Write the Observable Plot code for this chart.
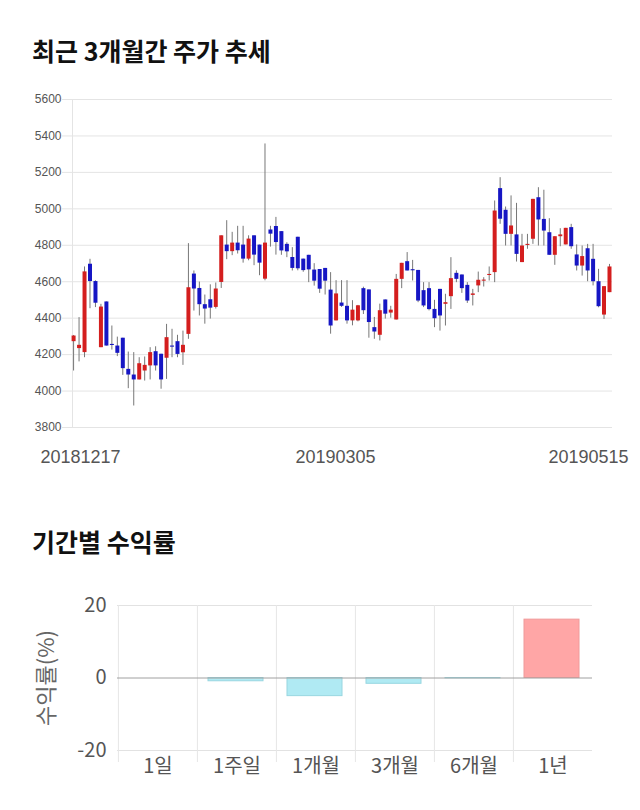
<!DOCTYPE html>
<html><head><meta charset="utf-8">
<script src="https://cdn.jsdelivr.net/npm/d3@7"></script>
<script src="https://cdn.jsdelivr.net/npm/@observablehq/plot@0.6"></script>
<style>
body{margin:0;background:#fff;}
#root{position:relative;width:640px;height:810px;overflow:hidden;font-family:"Noto Sans CJK KR","Noto Sans",sans-serif;}
.title{position:absolute;left:32px;font-weight:700;font-size:25px;color:#111;line-height:1;white-space:nowrap;}
.chart{position:absolute;left:0;}
</style></head><body>
<div id="root">
<div class="title" style="top:38px">최근 3개월간 주가 추세</div>
<div id="c1" class="chart" style="top:80px"></div>
<div class="title" style="top:529px">기간별 수익률</div>
<div id="c2" class="chart" style="top:590px"></div>
</div>
<script>
// ---- candlestick data (2018-12-17 .. 2019-05-15, 99 trading days) ----
const opens = [4271,4233,4211,4696,4601,4238,4489,4256,4247,4290,4119,4088,4061,4110,4138,4216,4202,4180,4247,4271,
4210,4311,4642,4563,4474,4501,4459,4596,4801,4765,4812,4801,4724,4852,4801,4614,4884,4903,4875,4805,
4733,4844,4724,4745,4664,4667,4673,4554,4385,4483,4465,4385,4385,4562,4555,4348,4306,4500,4428,4390,
4613,4710,4666,4662,4551,4562,4448,4558,4476,4518,4646,4637,4580,4525,4577,4603,4634,4650,5111,4992,
4860,4857,4705,4799,4833,5061,4942,4869,4745,4847,4802,4897,4747,4686,4781,4723,4600,4417,4540];
const highs = [4305,4403,4681,4723,4605,4476,4489,4357,4296,4290,4214,4211,4183,4187,4238,4243,4202,4366,4339,4306,
4329,4809,4659,4598,4527,4583,4593,4852,4935,4871,4904,4904,4852,4852,4801,5356,4904,4953,4875,4814,
4787,4844,4724,4745,4699,4667,4673,4650,4606,4606,4606,4496,4470,4570,4555,4404,4477,4500,4465,4640,
4701,4760,4717,4662,4595,4595,4498,4558,4531,4732,4660,4637,4595,4558,4653,4622,4681,5043,5171,5010,
5071,5030,4860,4860,5052,5116,5102,4946,4847,4891,4893,4915,4802,4796,4805,4805,4668,4573,4695];
const lows = [4110,4160,4183,4452,4458,4238,4247,4225,4189,4086,4013,3918,4061,4055,4061,4110,4010,4064,4183,4183,
4141,4284,4439,4412,4367,4395,4450,4563,4721,4743,4752,4702,4715,4688,4633,4605,4790,4746,4745,4732,
4659,4660,4652,4595,4576,4536,4527,4312,4385,4459,4367,4358,4380,4420,4290,4284,4275,4395,4400,4390,
4562,4659,4604,4485,4458,4440,4348,4329,4357,4448,4595,4536,4481,4467,4540,4571,4604,4595,4915,4796,
4796,4708,4705,4778,4805,4796,4796,4745,4690,4792,4802,4778,4659,4631,4600,4577,4457,4393,4540];
const closes = [4302,4251,4654,4601,4482,4461,4247,4250,4207,4123,4088,4061,4150,4141,4211,4138,4061,4293,4241,4201,
4251,4567,4560,4474,4450,4455,4560,4852,4765,4812,4770,4724,4834,4746,4702,4812,4861,4815,4769,4764,
4673,4671,4661,4665,4603,4559,4603,4357,4533,4465,4385,4444,4468,4441,4376,4324,4441,4422,4444,4613,
4701,4659,4660,4494,4467,4447,4397,4412,4485,4617,4613,4562,4494,4533,4608,4609,4640,4988,4943,4860,
4906,4750,4796,4805,5052,4939,4878,4745,4847,4857,4893,4792,4686,4738,4659,4600,4463,4573,4681];
const priceTicks = [3800,4000,4200,4400,4600,4800,5000,5200,5400,5600];
const dateLabels = ["20181217","20190305","20190515"];
const dateLabelIndex = [0,49,98];

// ---- period returns ----
const periods = ["1일","1주일","1개월","3개월","6개월","1년"];
const returns = [0,-0.9,-5.0,-1.6,-0.1,16.1];
const returnTicks = [-20,0,20];

const RED = "#d41e1e", BLUE = "#1616c4";
const candles = opens.map((o,i)=>({i, open:o, high:highs[i], low:lows[i], close:closes[i]}));
const labels = dateLabels.map((t,k)=>({t, i:dateLabelIndex[k]}));
const xDomain = [-0.2, 98.55];

const chart1 = Plot.plot({
  width: 640, height: 400,
  marginTop: 19, marginBottom: 53, marginLeft: 72, marginRight: 28,
  x: {domain: xDomain, axis: null},
  y: {domain: [3800, 5600], axis: null},
  style: {fontFamily: "'Liberation Sans', Arial, sans-serif", background: "#fff"},
  marks: [
    Plot.ruleY(priceTicks, {stroke: "#e4e4e4", insetLeft: -10}),
    Plot.ruleX([xDomain[0]], {stroke: "#e4e4e4"}),
    Plot.text(priceTicks, {y: d=>d, text: d=>String(d), frameAnchor: "left", textAnchor: "end", dx: -11, fontSize: 12, fill: "#555"}),
    Plot.ruleX(candles, {x: "i", y1: "low", y2: "high", stroke: "#777", strokeWidth: 1}),
    Plot.ruleX(candles, {x: "i", y1: "open", y2: "close", stroke: d => d.close >= d.open ? RED : BLUE, strokeWidth: 4}),
    Plot.text([labels[0]], {x: "i", text: "t", frameAnchor: "bottom", dy: 35, dx: 7, fontSize: 18, fill: "#555"}),
    Plot.text([labels[1]], {x: "i", text: "t", frameAnchor: "bottom", dy: 35, dx: -6, fontSize: 18, fill: "#555"}),
    Plot.text([labels[2]], {x: "i", text: "t", frameAnchor: "bottom", dy: 35, dx: 19, textAnchor: "end", fontSize: 18, fill: "#555"})
  ]
});
document.getElementById("c1").appendChild(chart1);

const bars = periods.map((p,k)=>({period:p, value:returns[k]}));
const bw = (640 - 117 - 48) / periods.length;
const chart2 = Plot.plot({
  width: 640, height: 210,
  marginTop: 15, marginBottom: 50, marginLeft: 117, marginRight: 48,
  x: {domain: periods, padding: 0, axis: null},
  y: {domain: [-20, 20], axis: null},
  style: {fontFamily: "'Noto Sans CJK KR', 'Liberation Sans', sans-serif", background: "#fff"},
  marks: [
    Plot.ruleY([-20, 20], {stroke: "#e2e2e2"}),
    Plot.ruleX(periods, {x: d=>d, dx: -bw/2, stroke: "#e6e6e6", insetBottom: -12}),
    Plot.barY(bars.filter(d=>d.value!==0), {x: "period", y: "value",
      fill: d => d.value > 0 ? "#ffa6a6" : "#b0eaf3",
      stroke: d => d.value > 0 ? "#f09a9a" : "#98d6e0",
      insetLeft: 11, insetRight: 13}),
    Plot.ruleY([0], {stroke: "#a0a0a0"}),
    Plot.text(returnTicks, {y: d=>d, text: d=>String(d), frameAnchor: "left", textAnchor: "end", dx: -11, fontSize: 20, fill: "#555"}),
    Plot.text(periods, {x: d=>d, text: d=>d, frameAnchor: "bottom", dy: 22, fontSize: 20, fill: "#555"}),
    Plot.text(["수익률(%)"], {text: d=>d, frameAnchor: "left", textAnchor: "middle", rotate: -90, dx: -71, fontSize: 22, fill: "#666"})
  ]
});
document.getElementById("c2").appendChild(chart2);
</script>
</body></html>
